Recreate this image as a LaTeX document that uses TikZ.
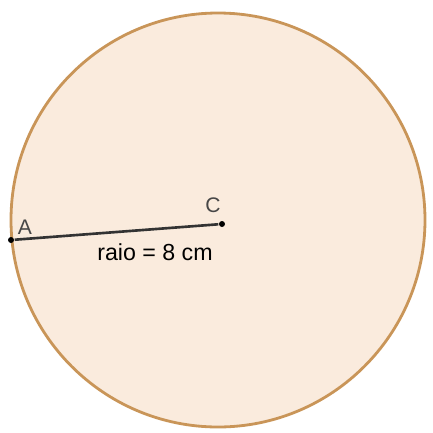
\documentclass[tikz,border=0pt]{standalone}
\usepackage{fontspec}
\setmainfont{Liberation Sans}
\definecolor{disco}{HTML}{FAEBDD}
\definecolor{borda}{HTML}{C99558}
\definecolor{raio}{HTML}{333333}
\begin{document}
\begin{tikzpicture}[ponto/.style={circle,fill=black,inner sep=0pt,minimum size=0.06cm},
  rotulo/.style={font=\fontsize{6}{7}\selectfont,text=raio!90}]
  \useasboundingbox (0,0) rectangle (4.33,4.32);
  \draw[borda,line width=0.8pt,fill=disco] (2.18,2.12) circle (2.07);
  \node[ponto] (C) at (2.22,2.08) {};
  \node[ponto] (A) at (0.11,1.92) {};
  \draw[raio,line width=0.75pt] (A)--(C);
  \node[rotulo] (la) at (0.25,2.05) {A};
  \node[rotulo] (lc) at (2.13,2.27) {C};
  \node[font=\fontsize{6.6}{8}\selectfont] (r) at (1.55,1.80) {raio = 8 cm};
\end{tikzpicture}
\end{document}
